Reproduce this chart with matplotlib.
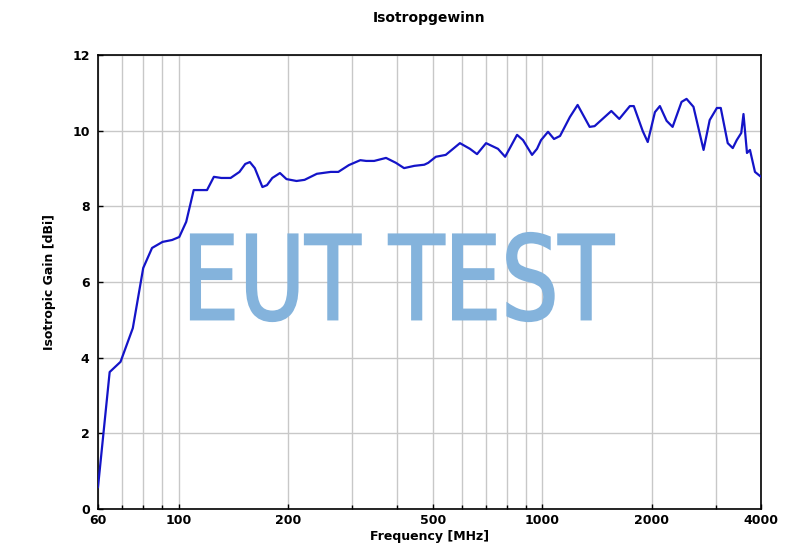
import matplotlib
matplotlib.use("Agg")
import matplotlib.pyplot as plt
from matplotlib.ticker import FixedLocator, FixedFormatter
from matplotlib.textpath import TextPath
from matplotlib.patches import PathPatch
from matplotlib.font_manager import FontProperties
from matplotlib.transforms import Affine2D

freq = [60,64.6,69.2,74.8,79.9,84.5,90.3,95.9,100.4,104.9,110,119.7,125,131,139,147,152.5,157,162,170,175,181,190,198,211,222,240,262,275,294,316,328,345,372,396,417,445,474,486,510,543,594,633,662,701,756,791,853,886,938,968,993,1038,1078,1120,1192,1252,1351,1394,1550,1630,1743,1787,1891,1952,2043,2108,2200,2285,2418,2496,2608,2780,2890,3025,3100,3240,3345,3430,3530,3580,3660,3730,3850,4000]
gain = [0.58,3.62,3.89,4.78,6.37,6.9,7.06,7.11,7.19,7.59,8.43,8.43,8.78,8.75,8.75,8.91,9.12,9.17,9.01,8.51,8.56,8.75,8.88,8.72,8.67,8.7,8.86,8.91,8.91,9.09,9.22,9.2,9.2,9.28,9.15,9.01,9.07,9.1,9.15,9.31,9.36,9.67,9.52,9.38,9.67,9.52,9.31,9.89,9.75,9.36,9.52,9.75,9.97,9.78,9.86,10.36,10.68,10.1,10.12,10.52,10.31,10.65,10.65,9.99,9.7,10.49,10.65,10.26,10.1,10.76,10.84,10.63,9.49,10.28,10.6,10.6,9.67,9.54,9.75,9.94,10.44,9.41,9.49,8.91,8.78]
xticks = [60,100,200,500,1000,2000,4000]
xgrid = [70,80,90,300,400,600,700,800,900,3000]
yticks = [0,2,4,6,8,10,12]

W, H = 790, 555
fig = plt.figure(figsize=(7.9,5.55), dpi=100)
ax = fig.add_axes([98/W, 1-509/H, 663/W, 454/H])
ax.set_xscale('log')
ax.set_xlim(60,4000); ax.set_ylim(0,12)
ax.xaxis.set_major_locator(FixedLocator(xticks))
ax.xaxis.set_major_formatter(FixedFormatter([str(v) for v in xticks]))
ax.xaxis.set_minor_locator(FixedLocator(xgrid))
ax.set_yticks(yticks)
ax.grid(True, which='both', color='#c8c8c8', lw=1)
ax.set_axisbelow(True)
ax.tick_params(which='both', direction='in', labelsize=9, width=1)
ax.tick_params(which='minor', length=3)
ax.tick_params(axis='y', pad=6)
for lbl in ax.get_xticklabels()+ax.get_yticklabels():
    lbl.set_fontweight('bold')
ax.plot(freq, gain, color='#1414c8', lw=1.6, zorder=3)

tp = TextPath((0,0), 'EUT TEST', size=100, prop=FontProperties(family='DejaVu Sans', weight='normal'))
ext = tp.get_extents()
sx = 423/ext.width; sy = 88/ext.height
tr = Affine2D().translate(-ext.x0, -ext.y0).scale(sx, sy).translate(191, H-321)
patch = PathPatch(tr.transform_path(tp), facecolor='#84b3dc', edgecolor='#84b3dc', lw=1.6,
                  transform=None, zorder=4)
fig.patches.append(patch)

ax.set_xlabel('Frequency [MHz]', fontsize=9, fontweight='bold', labelpad=2)
ax.set_ylabel('Isotropic Gain [dBi]', fontsize=9, fontweight='bold', labelpad=12)
fig.text(98/W+663/W/2, 1-18/H, 'Isotropgewinn', ha='center', va='center', fontsize=10, fontweight='bold')
for s in ax.spines.values(): s.set_linewidth(1.2)
fig.savefig('out.png', dpi=100)
